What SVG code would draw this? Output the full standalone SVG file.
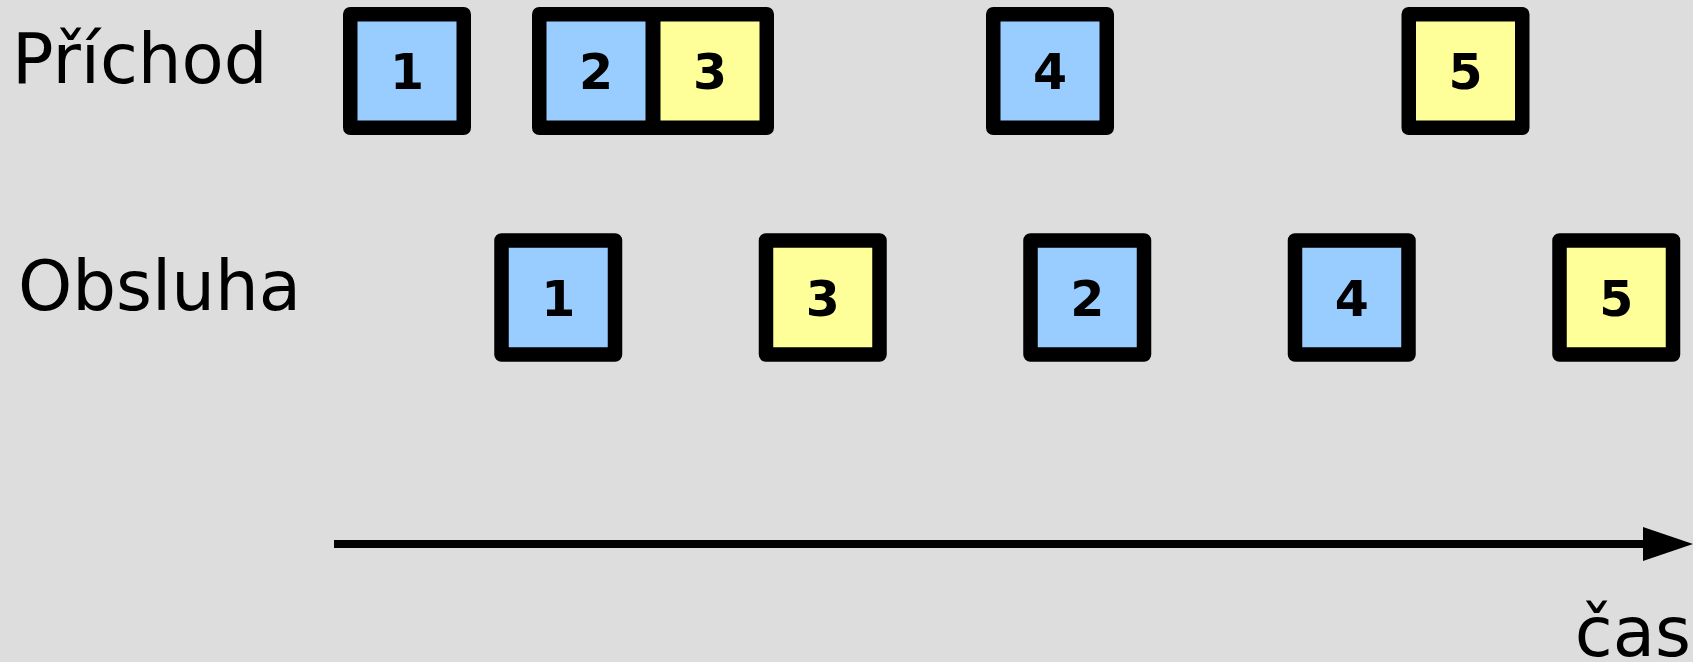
<svg xmlns="http://www.w3.org/2000/svg" width="1693" height="662" viewBox="0 0 1693 662">
  <style>
    .box { stroke: #000; stroke-width: 14.5; stroke-linejoin: round; }
    .blue { fill: #99ccff; }
    .yellow { fill: #ffff99; }
    .num { font-family: "DejaVu Sans", sans-serif; font-weight: bold; font-size: 49px; text-anchor: middle; fill: #000; }
    .label { font-family: "DejaVu Sans", sans-serif; font-size: 69px; fill: #000; }
    .axis { stroke: #000; stroke-width: 8; fill: none; }
  </style>
  <defs>
    <marker id="arrowhead" markerUnits="userSpaceOnUse" markerWidth="50" markerHeight="34" refX="2" refY="17" orient="auto">
      <path d="M0,0 L50,17 L0,34 z" fill="#000"/>
    </marker>
  </defs>

  <rect width="1693" height="662" fill="#dddddd"/>

  <!-- row labels -->
  <text id="label-prichod" class="label" x="12" y="83">Příchod</text>
  <text id="label-obsluha" class="label" x="18" y="310">Obsluha</text>
  <text id="label-cas" class="label" x="1691" y="656" text-anchor="end">čas</text>

  <!-- arrivals -->
  <g id="arrival-1">
    <rect class="box blue" x="350.25" y="14.25" width="113.5" height="113.5"/>
    <text class="num" x="407" y="88.5">1</text>
  </g>
  <g id="arrival-2">
    <rect class="box blue" x="539.25" y="14.25" width="113.5" height="113.5"/>
    <text class="num" x="596" y="88.5">2</text>
  </g>
  <g id="arrival-3">
    <rect class="box yellow" x="653.25" y="14.25" width="113.5" height="113.5"/>
    <text class="num" x="710" y="88.5">3</text>
  </g>
  <g id="arrival-4">
    <rect class="box blue" x="993.25" y="14.25" width="113.5" height="113.5"/>
    <text class="num" x="1050" y="88.5">4</text>
  </g>
  <g id="arrival-5">
    <rect class="box yellow" x="1408.75" y="14.25" width="113.5" height="113.5"/>
    <text class="num" x="1465.5" y="88.5">5</text>
  </g>

  <!-- service order -->
  <g id="service-1">
    <rect class="box blue" x="501.5" y="240.5" width="113.5" height="114"/>
    <text class="num" x="558.25" y="315.5">1</text>
  </g>
  <g id="service-3">
    <rect class="box yellow" x="766" y="240.5" width="113.5" height="114"/>
    <text class="num" x="822.75" y="315.5">3</text>
  </g>
  <g id="service-2">
    <rect class="box blue" x="1030.5" y="240.5" width="113.5" height="114"/>
    <text class="num" x="1087.25" y="315.5">2</text>
  </g>
  <g id="service-4">
    <rect class="box blue" x="1295" y="240.5" width="113.5" height="114"/>
    <text class="num" x="1351.75" y="315.5">4</text>
  </g>
  <g id="service-5">
    <rect class="box yellow" x="1559.5" y="240.5" width="113.5" height="114"/>
    <text class="num" x="1616.25" y="315.5">5</text>
  </g>

  <!-- time axis -->
  <g id="connectors">
    <line class="axis" x1="334" y1="544" x2="1645" y2="544" marker-end="url(#arrowhead)"/>
  </g>
</svg>
